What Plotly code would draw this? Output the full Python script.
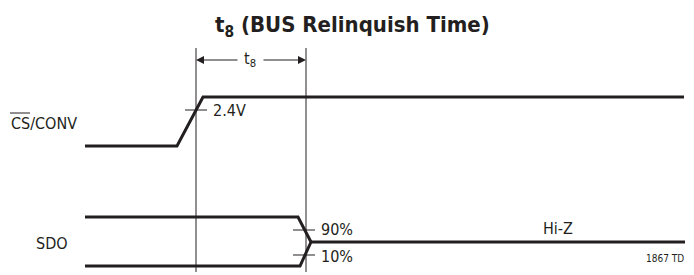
import plotly.graph_objects as go

# Waveform data (diagram coordinates, pixel-like units, y down)
cs_x = [85, 177, 203, 684]
cs_y = [146, 146, 97, 97]
sdo_hi_x = [85, 298, 311]
sdo_hi_y = [217, 217, 242]
sdo_lo_x = [85, 300, 311]
sdo_lo_y = [266, 266, 242]
hiz_x = [311, 685]
hiz_y = [242, 242]
t8_start, t8_end = 196, 306
guide_top, guide_bottom = 48, 272
lvl_24_y = 110
lvl_90_y = 230
lvl_10_y = 255

FONT = "DejaVu Sans Condensed, Liberation Sans Narrow, Arial Narrow, sans-serif"
INK = "#231f20"

fig = go.Figure()

def line(x, y, w, color=INK):
    fig.add_trace(go.Scatter(x=x, y=y, mode="lines",
                             line=dict(color=color, width=w),
                             hoverinfo="skip", showlegend=False))

# guides
line([t8_start, t8_start], [guide_top, guide_bottom], 1)
line([t8_end, t8_end], [guide_top, guide_bottom], 1)
# signals
line(cs_x, cs_y, 3)
line(sdo_hi_x, sdo_hi_y, 3)
line(sdo_lo_x, sdo_lo_y, 3)
line(hiz_x, hiz_y, 3)
# threshold ticks
line([185, 207], [lvl_24_y, lvl_24_y], 1)
line([293, 315], [lvl_90_y, lvl_90_y], 1)
line([293, 315], [lvl_10_y, lvl_10_y], 1)
# overline over "CS" (active-low)
line([10, 30], [113, 113], 1)

# t8 arrows
for tip, tail in [(t8_start, 239), (t8_end, 262)]:
    fig.add_annotation(x=tip, y=60, ax=tail, ay=60, axref="x", ayref="y",
                       xref="x", yref="y", text="", showarrow=True,
                       arrowhead=2, arrowsize=1.6, arrowwidth=1, arrowcolor=INK)

def txt(x, y, s, size=17, anchor="left"):
    fig.add_annotation(x=x, y=y, text=s, showarrow=False, xref="x", yref="y",
                       xanchor=anchor, yanchor="middle",
                       font=dict(family=FONT, size=size, color=INK))

txt(250, 59, "t<sub>8</sub>", 16, "center")
txt(211, 110, "2.4V", 16)
txt(79, 123, "CS/CONV", 16, "right")
txt(70, 243, "SDO", 16, "right")
txt(319, 229, "90%", 16)
txt(319, 256, "10%", 16)
txt(558, 228, "Hi-Z", 16, "center")
txt(686, 258, "1867 TD", 10, "right")
fig.add_annotation(x=352, y=26, text="<b>t<sub>8</sub> (BUS Relinquish Time)</b>",
                   showarrow=False, xref="x", yref="y", xanchor="center",
                   yanchor="middle", font=dict(family=FONT, size=22, color=INK))

# page body has an 8px margin: shift ranges so data units == window pixels
fig.update_xaxes(range=[8, 702], visible=False, fixedrange=True)
fig.update_yaxes(range=[283, 8], visible=False, fixedrange=True)
fig.update_layout(width=694, height=275, margin=dict(l=0, r=0, t=0, b=0),
                  paper_bgcolor="white", plot_bgcolor="white")
fig.write_html("out.html")
